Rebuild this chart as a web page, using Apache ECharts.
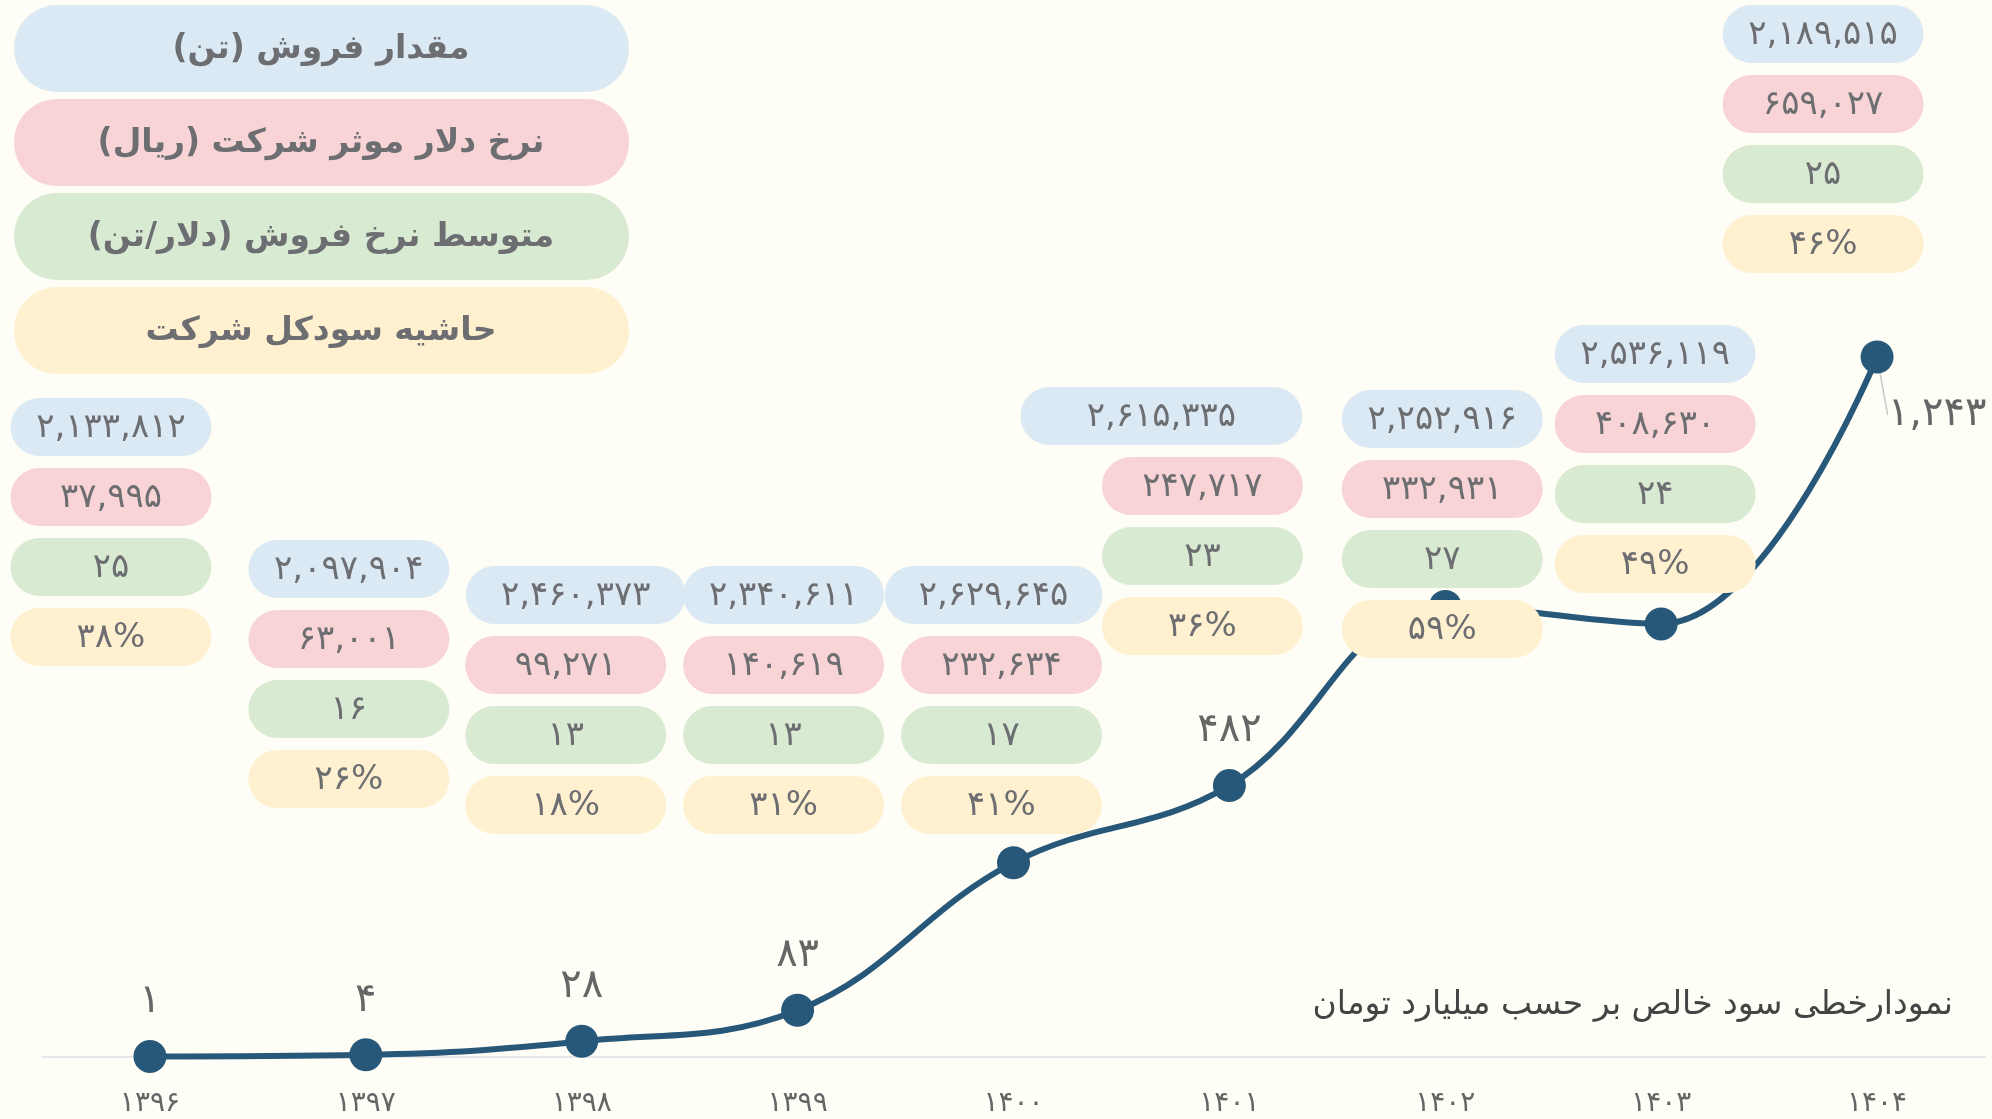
<!DOCTYPE html>
<html>
<head>
<meta charset="utf-8">
<script src="https://cdn.jsdelivr.net/npm/echarts@6/dist/echarts.min.js"></script>
<style>
  html, body { margin: 0; padding: 0; background: #fffef6; }
  #chart { width: 1992px; height: 1119px; }
</style>
</head>
<body>
<div id="chart"></div>
<script>
// سود خالص (میلیارد تومان)
const years = ['1396', '1397', '1398', '1399', '1400', '1401', '1402', '1403', '1404'];
const netProfit = [1, 4, 28, 83, 345, 482, 800, 769, 1243];
// جدول هر سال
const salesTon = [2133812, 2097904, 2460373, 2340611, 2629645, 2615335, 2252916, 2536119, 2189515];
const dollarRate = [37995, 63001, 99271, 140619, 232634, 247717, 332931, 408630, 659027];
const avgPrice = [25, 16, 13, 13, 17, 23, 27, 24, 25];
const profitMargin = [38, 26, 18, 31, 41, 36, 59, 49, 46];
const legendNames = ['مقدار فروش (تن)', 'نرخ دلار موثر شرکت (ریال)', 'متوسط نرخ فروش (دلار/تن)', 'حاشیه سودکل شرکت'];
const hiddenLabelYears = ['1400', '1402', '1403'];

// placement of each year's box stack (relative to the category center / from top)
const boxDx = [-39, -17, -16, -14, -12, -27, -3, -6, -54];
const boxTop = [398, 540, 566, 566, 566, 387, 390, 325, 5];
const blueWidth = [201, 201, 220, 201, 218, 282, 201, 201, 201];
const blueShift = [0, 0, 10, 0, -8, -41, 0, 0, 0];

const boxColors = ['#dbe9f4', '#f8d4d6', '#d9ead3', '#fff0d0'];
const textGray = '#6d6e71';
const lineColor = '#27587a';
const RLM = '\u200F';

const fa = s => String(s).replace(/\d/g, d => '۰۱۲۳۴۵۶۷۸۹'[d]);
const faNum = n => fa(n.toLocaleString('en-US'));

const chart = echarts.init(document.getElementById('chart'));

const lineData = netProfit.map((v, i) => {
  const item = { value: v };
  if (hiddenLabelYears.indexOf(years[i]) >= 0) {
    item.label = { show: false };
  } else if (i === netProfit.length - 1) {
    item.label = { position: 'inside' };
    item.labelLine = { show: true };
  }
  return item;
});

const legendGraphics = [];
legendNames.forEach((name, k) => {
  legendGraphics.push({
    type: 'rect',
    left: 14,
    top: 5 + k * 94,
    shape: { width: 615, height: 87, r: 43 },
    style: { fill: boxColors[k] }
  });
  legendGraphics.push({
    type: 'text',
    x: 321,
    y: 49 + k * 94,
    style: {
      text: RLM + name + RLM,
      align: 'center', textAlign: 'center',
      verticalAlign: 'middle', textVerticalAlign: 'middle',
      font: 'bold 33px "DejaVu Sans"',
      fill: textGray
    }
  });
});

const option = {
  backgroundColor: '#fffef6',
  animation: false,
  title: {
    text: RLM + 'نمودارخطی سود خالص بر حسب میلیارد تومان' + RLM,
    right: 34,
    top: 984,
    textStyle: { fontFamily: 'DejaVu Sans', fontSize: 33, fontWeight: 'normal', color: '#444' }
  },
  grid: { left: 42, right: 7, top: 357, bottom: 62 },
  xAxis: {
    type: 'category',
    data: years,
    boundaryGap: true,
    axisLine: { lineStyle: { color: '#e4e6e8', width: 2 } },
    axisTick: { show: false },
    axisLabel: {
      formatter: v => fa(v),
      fontFamily: 'DejaVu Sans',
      fontSize: 28,
      color: '#666',
      margin: 33
    }
  },
  yAxis: {
    type: 'value',
    min: 0,
    max: 'dataMax',
    show: false,
    splitLine: { show: false }
  },
  graphic: legendGraphics,
  series: [
    {
      type: 'line',
      data: lineData,
      smooth: 0.4,
      symbol: 'circle',
      symbolSize: 33,
      z: 2,
      lineStyle: { color: lineColor, width: 6 },
      itemStyle: { color: lineColor },
      label: {
        show: true,
        position: 'top',
        distance: 18,
        formatter: p => fa(p.value.toLocaleString('en-US')),
        fontFamily: 'DejaVu Sans',
        fontSize: 40,
        color: '#666'
      },
      labelLine: { show: false, lineStyle: { color: '#c8c8c8', width: 1.5 } },
      labelLayout: p => (p.dataIndex === netProfit.length - 1 ? { dx: 60, dy: 58 } : null)
    },
    {
      type: 'custom',
      z: 5,
      data: years.map((y, i) => [i]),
      renderItem: (params, api) => {
        const i = params.dataIndex;
        const cx = api.coord([api.value(0), 0])[0] + boxDx[i];
        const texts = [
          faNum(salesTon[i]),
          faNum(dollarRate[i]),
          fa(avgPrice[i]),
          fa(profitMargin[i]) + '%'
        ];
        const children = [];
        texts.forEach((t, k) => {
          const w = k === 0 ? blueWidth[i] : 201;
          const c = k === 0 ? cx + blueShift[i] : cx;
          const y = boxTop[i] + k * 70;
          children.push({
            type: 'rect',
            shape: { x: c - w / 2, y: y, width: w, height: 58, r: 29 },
            style: { fill: boxColors[k] }
          });
          children.push({
            type: 'text',
            style: {
              x: c, y: y + 30, text: t,
              align: 'center', textAlign: 'center',
              verticalAlign: 'middle', textVerticalAlign: 'middle',
              font: '34px "DejaVu Sans"',
              fill: textGray
            }
          });
        });
        return { type: 'group', children: children };
      }
    }
  ]
};

chart.setOption(option);
</script>
</body>
</html>
